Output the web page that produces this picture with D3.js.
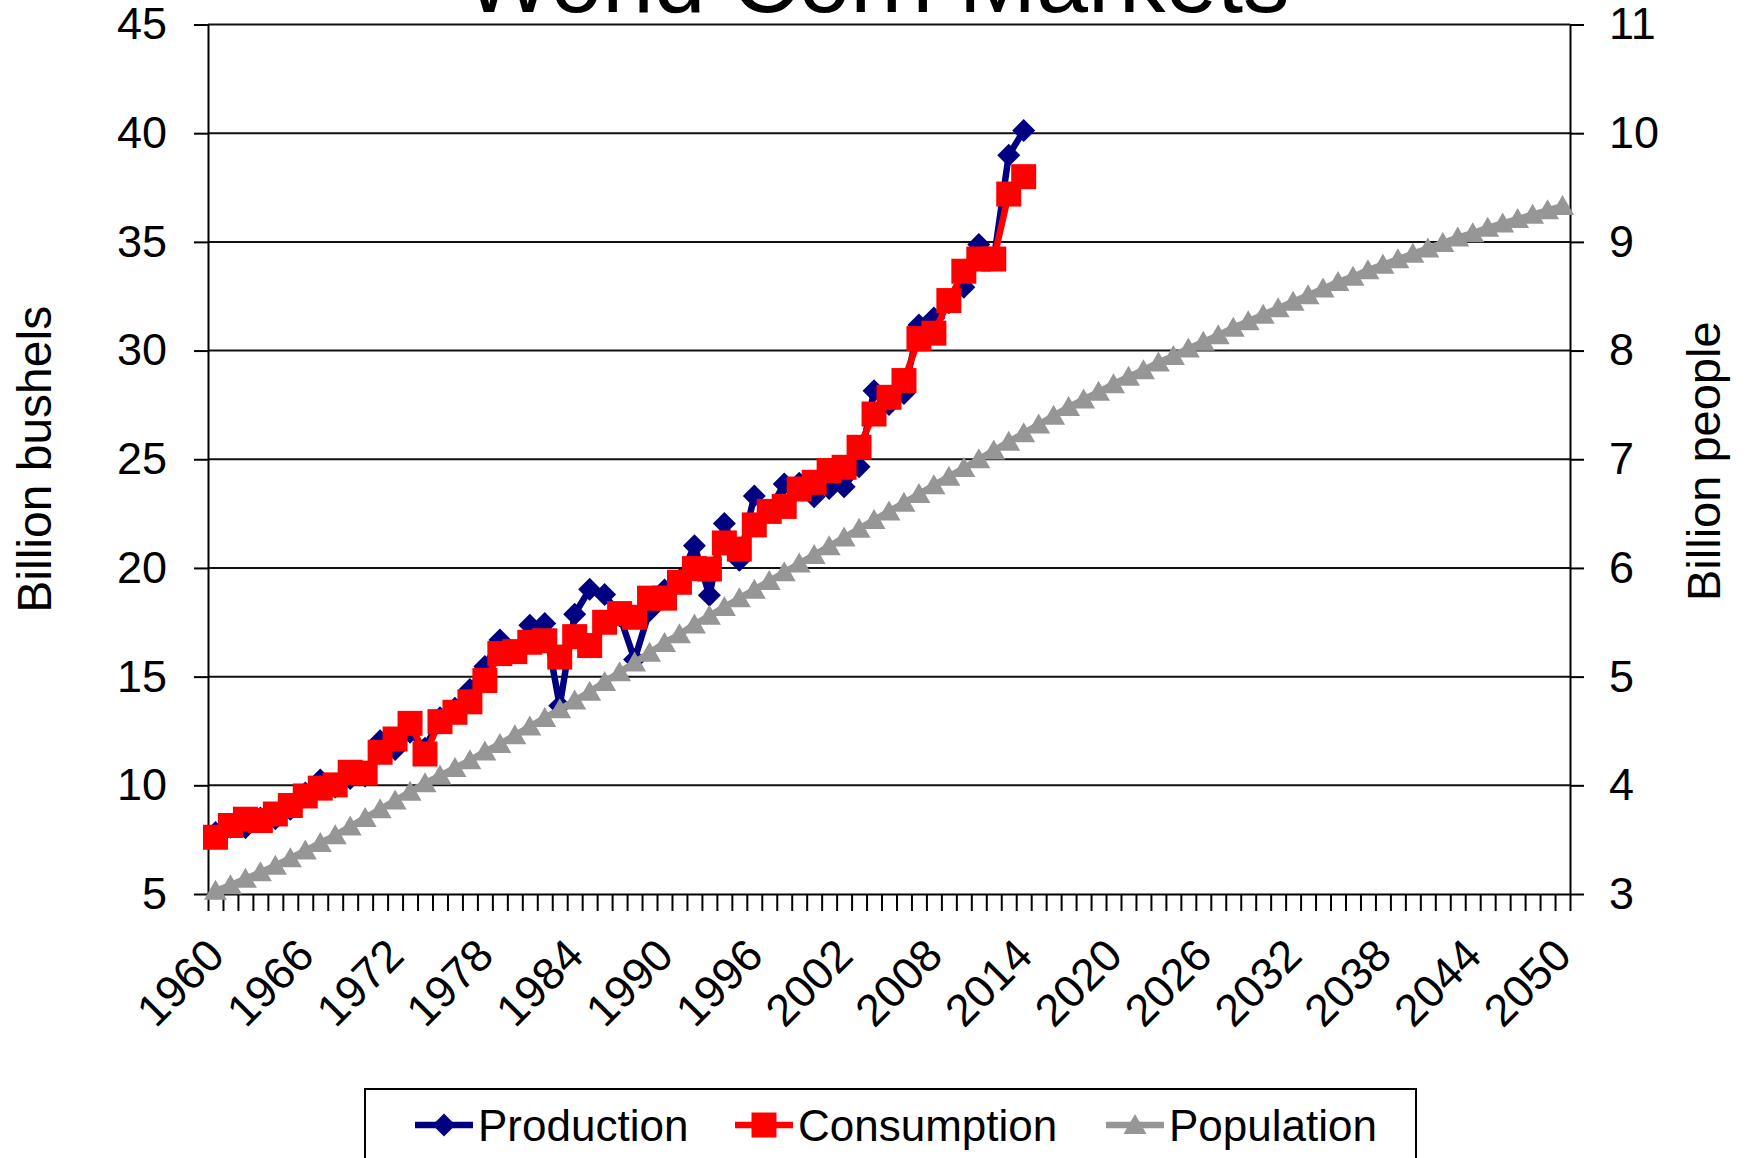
<!DOCTYPE html>
<html>
<head>
<meta charset="utf-8">
<script src="https://cdn.jsdelivr.net/npm/d3@7/dist/d3.min.js"></script>
<style>
body { margin: 0; background: #ffffff; }
svg { display: block; font-family: "Liberation Sans", Arial, sans-serif; }
</style>
</head>
<body>
<svg id="chart" width="1746" height="1158"></svg>
<script>

/* ====================================================================================
 * Data (billion bushels for corn, billion people for population)
 * ==================================================================================== */

// categories: one per year, 1960..2050
var years = d3.range(1960, 2051);
var xTickLabels = ["1960", "1966", "1972", "1978", "1984", "1990", "1996", "2002",
    "2008", "2014", "2020", "2026", "2032", "2038", "2044", "2050"];
var leftTicks = [5, 10, 15, 20, 25, 30, 35, 40, 45];
var rightTicks = [3, 4, 5, 6, 7, 8, 9, 10, 11];

// corn series start in 1960 and stop in 2014
var production = [
    7.83, 8.07, 8.05, 8.50, 8.46, 8.90, 9.65, 10.24, 9.92, 10.31,
    10.43, 12.05, 11.65, 12.44, 11.70, 13.11, 13.54, 14.41, 15.47, 16.69,
    16.10, 17.36, 17.44, 13.66, 17.87, 19.02, 18.78, 17.80, 15.79, 18.03,
    18.98, 19.45, 21.02, 18.74, 22.05, 20.35, 23.31, 22.64, 23.86, 23.90,
    23.27, 23.66, 23.74, 24.65, 28.15, 27.52, 28.03, 31.18, 31.50, 32.20,
    32.91, 34.88, 34.17, 38.98, 40.12];
var consumption = [
    7.61, 8.15, 8.44, 8.38, 8.68, 9.07, 9.51, 9.87, 10.02, 10.60,
    10.56, 11.52, 12.13, 12.85, 11.44, 12.93, 13.36, 13.84, 14.82, 16.06,
    16.15, 16.58, 16.65, 15.90, 16.84, 16.43, 17.50, 17.90, 17.73, 18.61,
    18.61, 19.34, 19.97, 19.95, 21.15, 20.87, 21.98, 22.60, 22.83, 23.63,
    23.94, 24.48, 24.63, 25.55, 27.08, 27.85, 28.62, 30.55, 30.80, 32.30,
    33.65, 34.21, 34.21, 37.20, 38.00];
// population runs the whole range 1960..2050
var population = [
    3.03, 3.08, 3.14, 3.20, 3.26, 3.33, 3.40, 3.47, 3.54, 3.62,
    3.70, 3.78, 3.86, 3.94, 4.02, 4.09, 4.16, 4.23, 4.31, 4.38,
    4.46, 4.54, 4.62, 4.70, 4.78, 4.86, 4.95, 5.04, 5.13, 5.22,
    5.31, 5.39, 5.48, 5.56, 5.64, 5.72, 5.80, 5.88, 5.96, 6.04,
    6.12, 6.20, 6.28, 6.36, 6.44, 6.52, 6.60, 6.68, 6.76, 6.84,
    6.92, 7.00, 7.08, 7.16, 7.24, 7.32, 7.40, 7.48, 7.55, 7.62,
    7.69, 7.76, 7.82, 7.89, 7.95, 8.02, 8.08, 8.14, 8.21, 8.27,
    8.33, 8.39, 8.45, 8.51, 8.57, 8.63, 8.68, 8.74, 8.79, 8.84,
    8.89, 8.94, 8.99, 9.04, 9.08, 9.13, 9.17, 9.21, 9.25, 9.29,
    9.33];

var seriesNames = ["Production", "Consumption", "Population"];
var seriesColors = ["#000080", "#ff0000", "#969696"];


/* ====================================================================================
 * Layout and scales
 * ==================================================================================== */

var plotL = 208, plotR = 1570, plotT = 24.5, plotB = 894;
var fontSize = 45;

var svg = d3.select("#chart");

// categories sit between the tick marks (excel style)
var x = d3.scaleBand().domain(years).range([plotL, plotR]).padding(0);
var cx = function(yr) {
    return x(yr) + x.bandwidth() / 2;
};
var xTick = d3.scaleLinear().domain([0, years.length]).range([plotL, plotR]);
var yL = d3.scaleLinear().domain([5, 45]).range([plotB, plotT]);
var yR = d3.scaleLinear().domain([3, 11]).range([plotB, plotT]);

// marker shapes
var markerPath = {
    "Production": "M0,-11.5L11.5,0L0,11.5L-11.5,0Z",
    "Consumption": "M-12.5,-12.5H12.5V12.5H-12.5Z",
    "Population": "M0,-11L11.5,9L-11.5,9Z"
};


/* ====================================================================================
 * Title, gridlines and axes
 * ==================================================================================== */

svg.append("text").attr("x", 877).attr("y", 12)
    .attr("text-anchor", "middle").style("font-size", "93px")
    .text("World Corn Markets");

svg.append("g").attr("class", "grid")
    .selectAll("line").data(leftTicks.slice(1)).enter().append("line")
    .attr("x1", plotL).attr("x2", plotR)
    .attr("y1", function(d) { return yL(d); })
    .attr("y2", function(d) { return yL(d); })
    .attr("stroke", "#111").attr("stroke-width", 2);

var styleAxis = function(g) {
    g.attr("font-size", fontSize).attr("font-family", null);
    g.select(".domain").attr("stroke", "#000").attr("stroke-width", 2);
    g.selectAll(".tick line").attr("stroke", "#000").attr("stroke-width", 2);
    g.selectAll(".tick text").attr("fill", "#000");
};

svg.append("g").attr("transform", "translate(" + plotL + ",0)")
    .call(d3.axisLeft(yL).tickValues(leftTicks).tickSize(14).tickSizeOuter(0).tickPadding(27))
    .call(styleAxis);

svg.append("g").attr("transform", "translate(" + plotR + ",0)")
    .call(d3.axisRight(yR).tickValues(rightTicks).tickSize(14).tickSizeOuter(0).tickPadding(25))
    .call(styleAxis);

svg.append("g").attr("transform", "translate(0," + plotB + ")")
    .call(d3.axisBottom(xTick).tickValues(d3.range(years.length + 1))
        .tickFormat("").tickSize(17).tickSizeOuter(0))
    .call(styleAxis);

// rotated year labels, end of text at the category centre
svg.append("g").attr("class", "xlabels")
    .selectAll("text").data(xTickLabels).enter().append("text")
    .attr("transform", function(d) {
        return "translate(" + cx(+d) + ",947) rotate(-45)";
    })
    .attr("text-anchor", "end").attr("dy", "0.35em")
    .style("font-size", fontSize + "px")
    .text(function(d) { return d; });

svg.append("text").attr("transform", "translate(51," + ((plotT + plotB) / 2) + ") rotate(-90)")
    .attr("text-anchor", "middle").style("font-size", "48px")
    .text("Billion bushels");
svg.append("text").attr("transform", "translate(1720," + ((plotT + plotB) / 2 + 2) + ") rotate(-90)")
    .attr("text-anchor", "middle").style("font-size", "47px")
    .text("Billion people");


/* ====================================================================================
 * Series
 * ==================================================================================== */

var drawSeries = function(name, values, yScale) {
    var color = seriesColors[seriesNames.indexOf(name)];
    var line = d3.line()
        .x(function(d, i) { return cx(years[i]); })
        .y(function(d) { return yScale(d); });
    var g = svg.append("g").attr("class", "series");
    g.append("path").datum(values)
        .attr("d", line).attr("fill", "none")
        .attr("stroke", color).attr("stroke-width", 6.5)
        .attr("stroke-linejoin", "round");
    g.selectAll("path.marker").data(values).enter().append("path")
        .attr("class", "marker")
        .attr("d", markerPath[name])
        .attr("transform", function(d, i) {
            return "translate(" + cx(years[i]) + "," + yScale(d) + ")";
        })
        .attr("fill", color);
};

drawSeries("Production", production, yL);
drawSeries("Consumption", consumption, yL);
drawSeries("Population", population, yR);


/* ====================================================================================
 * Legend
 * ==================================================================================== */

svg.append("rect").attr("x", 365).attr("y", 1089).attr("width", 1051).attr("height", 100)
    .attr("fill", "#fff").attr("stroke", "#000").attr("stroke-width", 2);

var legendX = [415, 735, 1106];
var legend = svg.append("g").attr("class", "legend")
    .selectAll("g").data(seriesNames).enter().append("g")
    .attr("transform", function(d, i) {
        return "translate(" + legendX[i] + ",1125)";
    });
legend.append("line").attr("x1", 0).attr("x2", 58)
    .attr("stroke", function(d, i) { return seriesColors[i]; })
    .attr("stroke-width", 6.5);
legend.append("path").attr("d", function(d) { return markerPath[d]; })
    .attr("transform", "translate(29,0)")
    .attr("fill", function(d, i) { return seriesColors[i]; });
legend.append("text").attr("x", 63).attr("y", 16)
    .style("font-size", "44px")
    .text(function(d) { return d; });

</script>
</body>
</html>
